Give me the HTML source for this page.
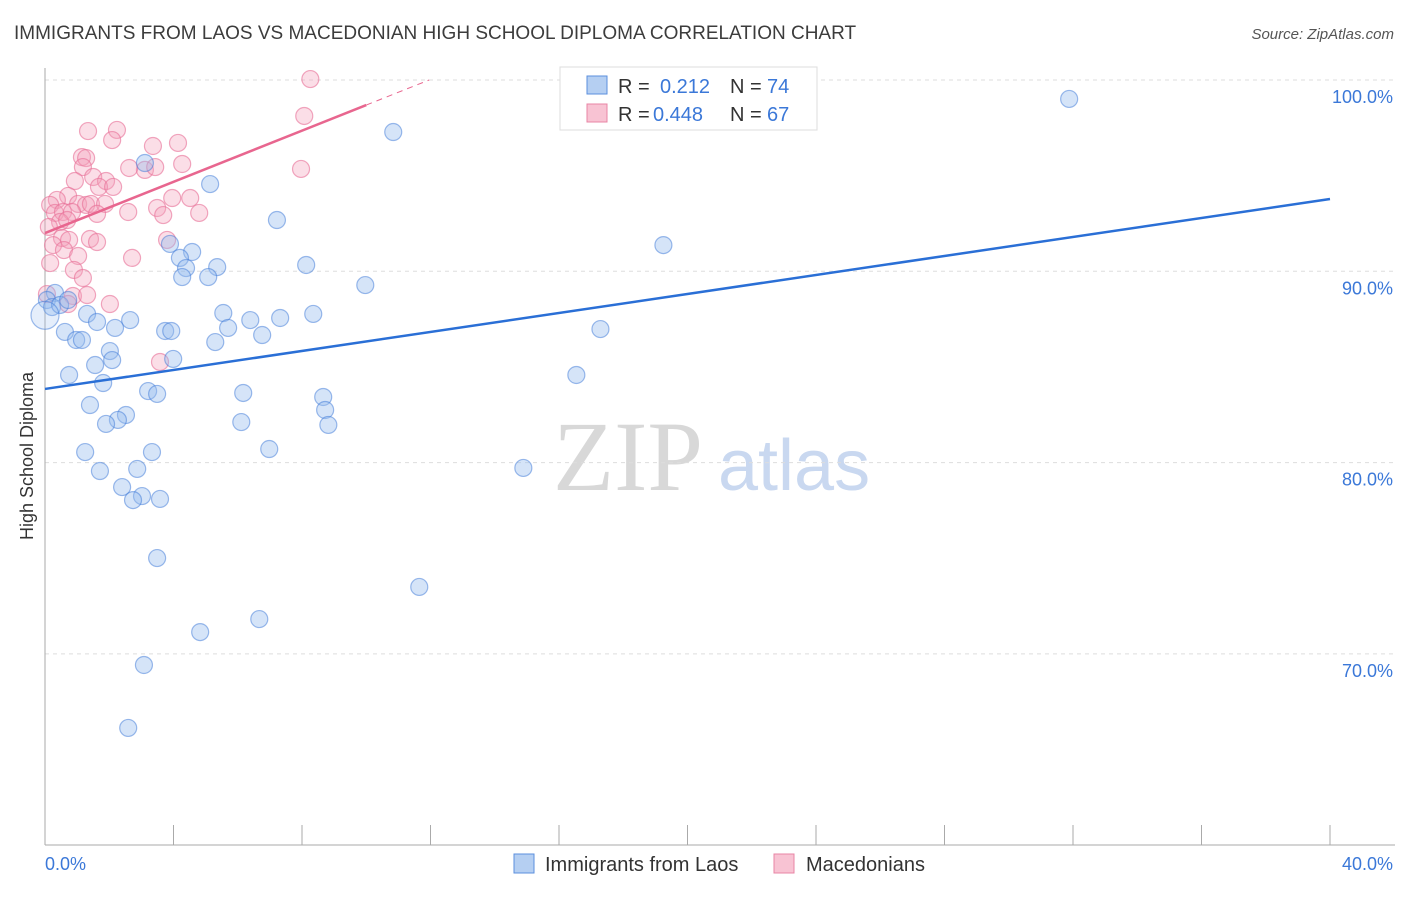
<!DOCTYPE html>
<html><head><meta charset="utf-8"><style>
body{margin:0;background:#fff;font-family:"Liberation Sans",sans-serif;}
svg text{font-family:"Liberation Sans",sans-serif;}
</style></head><body>
<svg id="chart" width="1406" height="892" viewBox="0 0 1406 892" xmlns="http://www.w3.org/2000/svg">
<text x="14" y="39" font-size="19" fill="#3c3c3c">IMMIGRANTS FROM LAOS VS MACEDONIAN HIGH SCHOOL DIPLOMA CORRELATION CHART</text>
<text x="1394" y="39" font-size="15" fill="#555" text-anchor="end" font-style="italic">Source: ZipAtlas.com</text>
<text transform="translate(33,456) rotate(-90)" font-size="18" fill="#333" text-anchor="middle">High School Diploma</text>
<g><text x="553" y="490" font-size="100" fill="#d8d8d8" style="font-family:'Liberation Serif',serif">ZIP</text><text x="718" y="490" font-size="72" fill="#c9d8f0">atlas</text></g>
<g id="grid"></g><g id="axes"></g><g id="marks"></g>
<g>
<rect x="560" y="67" width="257" height="63" fill="#fff" stroke="#ddd"/>
<rect x="587" y="76" width="20" height="18" fill="#b5cff2" stroke="#5b8fde"/>
<rect x="587" y="104" width="20" height="18" fill="#f8c3d3" stroke="#e885a4"/>
<text x="618" y="93" font-size="20" fill="#333">R = </text><text x="660" y="93" font-size="20" fill="#3b78d8">0.212</text>
<text x="730" y="93" font-size="20" fill="#333">N = </text><text x="767" y="93" font-size="20" fill="#3b78d8">74</text>
<text x="618" y="121" font-size="20" fill="#333">R = </text><text x="653" y="121" font-size="20" fill="#3b78d8">0.448</text>
<text x="730" y="121" font-size="20" fill="#333">N = </text><text x="767" y="121" font-size="20" fill="#3b78d8">67</text>
</g>
<g>
<rect x="514" y="854" width="20" height="19" fill="#b5cff2" stroke="#5b8fde"/>
<text x="545" y="871" font-size="20" fill="#333">Immigrants from Laos</text>
<rect x="774" y="854" width="20" height="19" fill="#f8c3d3" stroke="#e885a4"/>
<text x="806" y="871" font-size="20" fill="#333">Macedonians</text>
</g>
</svg>
<script>
const xTicks=[0,4,8,12,16,20,24,28,32,36,40];
const yTicks=[100,90,80,70];
const yTickLabels=["100.0%","90.0%","80.0%","70.0%"];
const xEndLabels=["0.0%","40.0%"];
const blueX=[31.88,10.84,3.11,5.14,7.22,19.25,3.89,4.58,4.2,4.39,5.36,5.08,4.27,8.13,9.97,0.31,0.06,0.22,0.47,0.72,1.31,1.62,2.65,5.55,6.39,7.32,8.35,5.70,6.76,5.30,3.74,3.93,2.18,0.62,0.97,1.15,17.29,2.02,2.09,3.99,1.56,0.75,16.54,1.81,3.21,3.49,6.17,8.66,1.40,8.72,2.52,2.27,1.90,6.11,8.82,1.25,3.33,6.98,1.71,2.87,14.89,2.40,3.02,2.74,3.58,3.49,11.65,4.83,6.67,3.08,2.59,0.0];
const blueY=[99.01,97.28,95.66,94.56,92.68,91.37,91.43,91.01,90.70,90.17,90.22,89.70,89.70,90.33,89.28,88.87,88.50,88.13,88.24,88.50,87.77,87.35,87.45,87.82,87.45,87.56,87.77,87.04,86.67,86.30,86.88,86.88,87.04,86.83,86.41,86.41,86.98,85.83,85.36,85.42,85.10,84.58,84.58,84.16,83.74,83.59,83.64,83.43,83.01,82.75,82.49,82.23,82.02,82.12,81.97,80.55,80.55,80.71,79.56,79.67,79.72,78.72,78.25,78.04,78.10,75.01,73.50,71.14,71.82,69.42,66.13,87.7];
const pinkX=[8.26,8.07,2.24,1.34,2.09,3.36,4.14,1.15,1.28,1.18,3.11,3.43,2.62,4.27,7.97,1.50,0.93,1.90,1.68,2.12,0.72,0.37,0.16,1.03,1.28,1.43,1.87,3.49,3.96,4.52,0.31,0.56,0.84,1.62,2.59,3.68,4.80,0.47,0.69,0.12,0.53,0.75,1.40,1.62,0.25,3.80,0.59,1.03,2.71,0.16,0.90,1.18,0.06,0.87,1.31,2.02,0.72,3.58];
const pinkY=[100.05,98.12,97.39,97.33,96.86,96.55,96.71,95.97,95.92,95.45,95.30,95.45,95.40,95.61,95.35,94.93,94.72,94.72,94.41,94.41,93.94,93.73,93.47,93.52,93.47,93.52,93.52,93.31,93.83,93.83,93.05,93.10,93.10,93.00,93.10,92.94,93.05,92.58,92.68,92.32,91.74,91.64,91.69,91.53,91.37,91.64,91.11,90.80,90.70,90.43,90.07,89.65,88.81,88.71,88.76,88.29,88.29,85.26];
const blueTrend=[83.85,93.78];
const pinkTrend=[92.0,98.69];
const pinkTrendEnd=10;

const X0=45,X1=1330,Y100=80,PX10=191.3;
function sx(v){return X0+(v/40)*(X1-X0);}
function sy(v){return Y100+(100-v)/10*PX10;}
const NS="http://www.w3.org/2000/svg";
function mk(tag,attrs,parent){const e=document.createElementNS(NS,tag);for(const k in attrs)e.setAttribute(k,attrs[k]);parent.appendChild(e);return e;}
const grid=document.getElementById('grid'),axes=document.getElementById('axes'),marks=document.getElementById('marks');
yTicks.forEach((t,i)=>{
  const l=mk('line',{x1:X0,x2:1395,y1:sy(t),y2:sy(t),stroke:'#ddd','stroke-dasharray':'4,4'},grid);
  
  
  const tx=mk('text',{x:1393,y:sy(t)+23,'font-size':18,fill:'#3b78d8','text-anchor':'end'},axes);
  tx.textContent=yTickLabels[i];
  
  
});
const ax=mk('line',{x1:X0,x2:X0,y1:68,y2:845,stroke:'#aaa'},axes);


const bx=mk('line',{x1:X0,x2:1395,y1:845,y2:845,stroke:'#aaa'},axes);


xTicks.forEach(t=>{
  const l=mk('line',{x1:sx(t),x2:sx(t),y1:825,y2:845,stroke:'#aaa'},axes);
  
  
});
const xl0=mk('text',{x:45,y:870,'font-size':18,fill:'#3b78d8'},axes);xl0.textContent=xEndLabels[0];


const xl1=mk('text',{x:1393,y:870,'font-size':18,fill:'#3b78d8','text-anchor':'end'},axes);xl1.textContent=xEndLabels[1];


pinkX.forEach((x,i)=>{
  const c=mk('circle',{cx:sx(x),cy:sy(pinkY[i]),r:8.5,fill:'rgba(244,160,187,0.35)',stroke:'rgba(232,110,150,0.6)','stroke-width':1.2},marks);
  
  
});
blueX.forEach((x,i)=>{
  const big=i===blueX.length-1;
  const c=mk('circle',{cx:sx(x),cy:sy(blueY[i]),r:big?14:8.5,fill:big?'rgba(150,188,238,0.25)':'rgba(150,188,238,0.4)',stroke:'rgba(60,120,215,0.5)','stroke-width':1.2},marks);
  
  
});
const bt=mk('line',{x1:sx(0),y1:sy(blueTrend[0]),x2:sx(40),y2:sy(blueTrend[1]),stroke:'#2a6fd6','stroke-width':2.5},marks);


const slope=(pinkTrend[1]-pinkTrend[0])/pinkTrendEnd;
const pt=mk('line',{x1:sx(0),y1:sy(pinkTrend[0]),x2:sx(pinkTrendEnd),y2:sy(pinkTrend[1]),stroke:'#e8668f','stroke-width':2.5},marks);


const xe=(100-pinkTrend[0])/slope;
const pd=mk('line',{x1:sx(pinkTrendEnd),y1:sy(pinkTrend[1]),x2:sx(xe),y2:sy(100),stroke:'#e8668f','stroke-width':1,'stroke-dasharray':'6,5'},marks);


</script>
</body></html>
